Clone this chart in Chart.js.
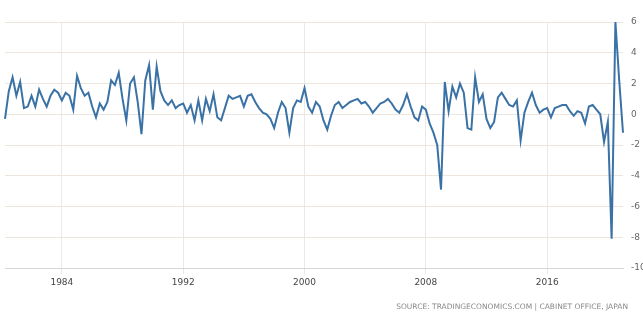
<!DOCTYPE html>
<html>
<head>
<meta charset="utf-8">
<script src="https://cdn.jsdelivr.net/npm/chart.js@4/dist/chart.umd.min.js"></script>
<style>
  html, body { margin: 0; padding: 0; background: #ffffff; }
  #wrap { position: relative; width: 643px; height: 320px; }
</style>
</head>
<body>
<div id="wrap"><canvas id="gdp" width="643" height="320"></canvas></div>
<script>
// Japan GDP growth rate, quarter on quarter (%), 1980 Q2 - 2021 Q1
const firstYear = 1980;
const firstQuarter = 2;
const growth = [
  -0.3, 1.5, 2.4, 1.2, 2.1, 0.4, 0.5, 1.2, 0.5, 1.6,
   1.0, 0.5, 1.2, 1.6, 1.4, 0.9, 1.4, 1.2, 0.3, 2.5,
   1.7, 1.2, 1.4, 0.5, -0.2, 0.7, 0.3, 0.8, 2.2, 1.9,
   2.7, 1.0, -0.4, 2.0, 2.4, 0.8, -1.3, 2.2, 3.2, 0.3,
   3.1, 1.5, 0.9, 0.6, 0.9, 0.4, 0.6, 0.7, 0.1, 0.6,
  -0.4, 0.9, -0.4, 1.0, 0.2, 1.3, -0.2, -0.4, 0.4, 1.2,
   1.0, 1.1, 1.2, 0.5, 1.2, 1.3, 0.8, 0.4, 0.1, 0.0,
  -0.3, -0.9, 0.1, 0.8, 0.4, -1.2, 0.4, 0.9, 0.8, 1.7,
   0.5, 0.1, 0.8, 0.5, -0.4, -1.0, -0.1, 0.6, 0.8, 0.4,
   0.6, 0.8, 0.9, 1.0, 0.7, 0.8, 0.5, 0.1, 0.4, 0.7,
   0.8, 1.0, 0.7, 0.3, 0.1, 0.6, 1.3, 0.5, -0.2, -0.4,
   0.5, 0.3, -0.6, -1.2, -2.0, -4.9, 2.1, 0.2, 1.8, 1.1,
   2.0, 1.4, -0.9, -1.0, 2.4, 0.8, 1.3, -0.3, -0.9, -0.5,
   1.1, 1.4, 1.0, 0.6, 0.5, 0.9, -1.7, 0.1, 0.8, 1.4,
   0.6, 0.1, 0.3, 0.4, -0.2, 0.4, 0.5, 0.6, 0.6, 0.2,
  -0.1, 0.2, 0.1, -0.6, 0.5, 0.6, 0.3, 0.0, -1.8, -0.5,
  -8.1, 6.0, 2.2, -1.2
];
const yearTicks = [1984, 1992, 2000, 2008, 2016];
const valueTicks = [6, 4, 2, 0, -2, -4, -6, -8, -10];
const sourceNote = 'SOURCE: TRADINGECONOMICS.COM | CABINET OFFICE, JAPAN';

// each quarter sits at its fractional year on a linear time axis
const points = growth.map((v, i) => {
  const q = firstQuarter - 1 + i;
  return { x: firstYear + q / 4, y: v };
});

const sourcePlugin = {
  id: 'sourceNote',
  afterDraw(chart) {
    const ctx = chart.ctx;
    ctx.save();
    ctx.font = '7.5px "DejaVu Sans", Arial, sans-serif';
    ctx.fillStyle = '#8a8a8a';
    ctx.textAlign = 'right';
    ctx.textBaseline = 'middle';
    ctx.fillText(sourceNote, 628, 307);
    ctx.restore();
  }
};

new Chart(document.getElementById('gdp'), {
  type: 'line',
  data: {
    datasets: [{
      data: points,
      borderColor: '#3a72a6',
      borderWidth: 2,
      pointRadius: 0,
      tension: 0,
      clip: 6
    }]
  },
  options: {
    responsive: false,
    animation: false,
    layout: { padding: { left: 5, top: 22, right: 0, bottom: 32 } },
    plugins: { legend: { display: false }, tooltip: { enabled: false } },
    scales: {
      x: {
        type: 'linear',
        min: points[0].x,
        max: points[points.length - 1].x,
        afterBuildTicks: (s) => { s.ticks = yearTicks.map(v => ({ value: v })); },
        afterFit: (s) => { s.height = 20; },
        grid: { color: '#e9e9e9', lineWidth: 1, tickLength: 6, drawTicks: true },
        border: { display: true, color: '#d6d6d6' },
        ticks: {
          color: '#444',
          font: { size: 9, family: '"DejaVu Sans", Arial, sans-serif' },
          padding: 3,
          maxRotation: 0,
          callback: (v) => String(v)
        }
      },
      y: {
        position: 'right',
        min: -10,
        max: 6,
        afterBuildTicks: (s) => { s.ticks = valueTicks.map(v => ({ value: v })); },
        afterFit: (s) => { s.width = 20; },
        grid: { color: '#ece6df', lineWidth: 1, drawTicks: false },
        border: { display: false },
        ticks: {
          color: '#666',
          font: { size: 9, family: '"DejaVu Sans", Arial, sans-serif' },
          padding: 8,
          callback: (v) => String(v)
        }
      }
    }
  },
  plugins: [sourcePlugin]
});
</script>
</body>
</html>
